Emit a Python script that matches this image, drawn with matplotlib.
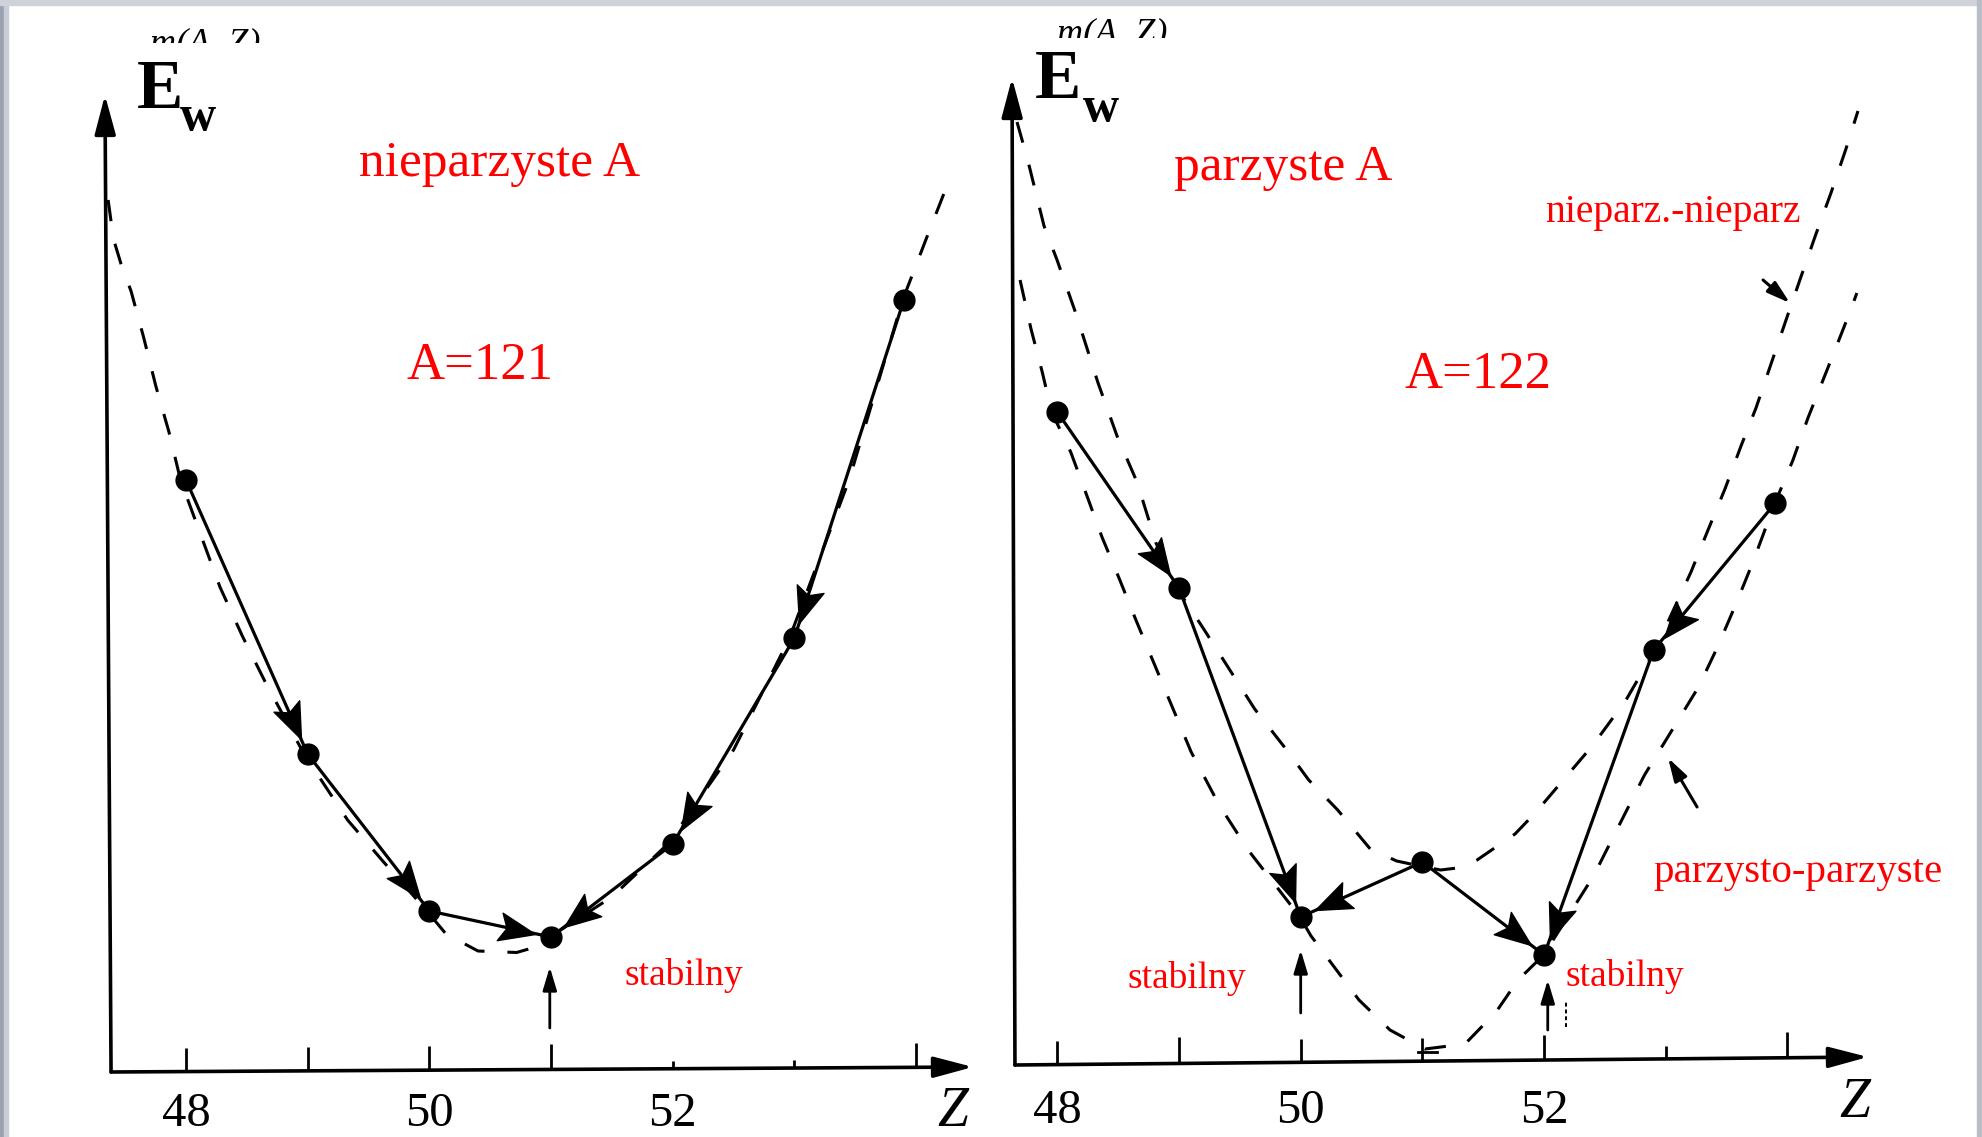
import numpy as np
import matplotlib.pyplot as plt
from matplotlib.path import Path
from matplotlib.markers import MarkerStyle
from matplotlib.patches import Rectangle
from matplotlib.transforms import Affine2D, Bbox, TransformedBbox

plt.rcParams['font.family'] = ['Liberation Serif', 'DejaVu Serif']

# ---- left panel: odd A (A=121) ----
odd_Z = [48, 49, 50, 51, 52, 53, 53.9]
odd_E = [59.0, 31.6, 15.9, 13.3, 22.6, 43.2, 77.0]
odd_decays = [(0, 1), (1, 2), (2, 3), (6, 5), (5, 4), (4, 3)]
odd_curve_Z = [47.36, 47.404, 47.466, 47.548, 47.651, 47.753, 47.86, 47.955, 48.279,
               48.463, 48.647, 48.97, 49.328, 49.617, 49.98, 50.137, 50.40, 50.717,
               50.874, 50.99, 51.5, 51.96, 52.5, 52.96, 53.45, 53.89, 54.08, 54.263]
odd_curve_E = [87.0, 83.1, 80.6, 77.9, 73.3, 68.35, 63.8, 59.0, 48.3,
               43.4, 38.9, 31.6, 25.0, 20.9, 15.9, 13.6, 11.9, 11.75,
               12.3, 13.3, 17.3, 22.6, 32.0, 43.2, 59.0, 77.0, 83.0, 88.7]

# ---- right panel: even A (A=122) ----
even_Z = [48, 49, 50, 51, 52, 52.9, 53.9]
even_E = [64.8, 47.2, 14.3, 19.8, 10.5, 41.0, 55.7]
even_decays = [(0, 1), (1, 2), (3, 2), (3, 4), (5, 4), (6, 5)]

# odd-odd parabola (upper dashed)
oo_curve_Z = [47.669, 47.759, 47.891, 47.998, 48.154, 48.335, 48.491, 48.655, 48.811,
              48.981, 49.203, 49.622, 49.885, 50.066, 50.304, 50.575, 50.789, 50.98,
              51.15, 51.284, 51.449, 51.761, 51.934, 52.402, 52.673, 52.911, 53.207,
              53.347, 53.486, 53.618, 53.741, 53.988, 54.11, 54.234, 54.357, 54.48, 54.579]
oo_curve_E = [93.8, 89.9, 83.4, 80.0, 74.6, 67.7, 62.4, 57.8, 51.7,
              47.2, 43.1, 35.1, 31.0, 28.0, 25.0, 21.05, 19.9, 19.4,
              19.0, 19.2, 20.0, 22.6, 24.8, 31.5, 36.0, 41.0, 48.8,
              53.0, 57.1, 61.4, 65.2, 74.0, 78.3, 82.6, 86.7, 91.1, 94.9]

# even-even parabola (lower dashed)
ee_curve_Z = [47.694, 47.784, 47.874, 47.954, 48.11, 48.244, 48.367, 48.507, 48.646,
              48.886, 49.1, 49.33, 49.568, 49.994, 50.085, 50.257, 50.479, 50.734,
              51.021, 51.35, 51.605, 51.786, 51.996, 52.406, 52.825, 53.269, 53.425,
              53.573, 53.713, 53.897, 54.045, 54.168, 54.39, 54.513, 54.57]
ee_curve_E = [78.0, 73.1, 68.9, 64.8, 60.8, 56.4, 52.3, 48.2, 44.0,
              37.0, 30.8, 25.5, 21.0, 14.3, 12.4, 9.6, 6.0, 3.0,
              1.1, 1.6, 4.8, 8.0, 10.5, 18.4, 28.5, 37.3, 41.3,
              45.5, 49.7, 55.7, 60.0, 64.2, 71.0, 74.8, 76.7]

tick_Z = [48, 49, 50, 51, 52, 53, 54]
tick_h_left = [2.4, 2.4, 2.4, 2.5, 0.8, 0.8, 2.4]
tick_h_right = [2.4, 2.6, 2.3, 2.3, 2.5, 1.3, 2.6]
label_Z = [48, 50, 52]

RED = '#ff0000'
W, H = 1982, 1137

fig = plt.figure(figsize=(W / 100, H / 100), dpi=100)
fig.patch.set_facecolor('white')

# slide-like grey border
fig.patches.append(Rectangle((0, 0), 4 / W, 1, transform=fig.transFigure, color='#9aa1b1', zorder=0))
fig.patches.append(Rectangle((4 / W, 0), 4 / W, 1, transform=fig.transFigure, color='#c9ccd5', zorder=0))
fig.patches.append(Rectangle((0, 1 - 5 / H), 1, 5 / H, transform=fig.transFigure, color='#cfd2d9', zorder=0))
fig.patches.append(Rectangle((1 - 5 / W, 0), 5 / W, 1, transform=fig.transFigure, color='#b9bdc8', zorder=0))

axL = fig.add_axes([8 / W, 0, 982 / W, 1 - 5 / H])
axL.set_xlim(46.4713 + 8 / 121.67, 54.6080)
axL.set_ylim(-6.7, 107.0 - 0.5)
axR = fig.add_axes([990 / W, 0, 987 / W, 1 - 5 / H])
axR.set_xlim(47.4470, 55.5982 - 5 / 121.7)
axR.set_ylim(-7.7, 106.0 - 0.5)
for ax in (axL, axR):
    ax.set_axis_off()
    ax.patch.set_alpha(0)

# barbed arrowhead, tip at the origin pointing along +x
head_path = Path([(0, 0), (-36, 14), (-29, 0), (-36, -14), (0, 0)],
                 [Path.MOVETO, Path.LINETO, Path.LINETO, Path.LINETO, Path.CLOSEPOLY])


def axis_arrow(ax, p0, p1):
    ax.annotate('', xy=p1, xytext=p0,
                arrowprops=dict(arrowstyle='-|>,head_length=1.2,head_width=0.32',
                                mutation_scale=20, lw=2.6, color='k',
                                shrinkA=0, shrinkB=0))


def small_arrow(ax, p0, p1, lw=2.0):
    ax.annotate('', xy=p1, xytext=p0,
                arrowprops=dict(arrowstyle='-|>,head_length=1.4,head_width=0.42',
                                mutation_scale=10, lw=lw, color='k',
                                shrinkA=0, shrinkB=0))


def draw_decays(ax, zs, es, decays):
    for i, j in decays:
        ax.plot([zs[i], zs[j]], [es[i], es[j]], color='k', lw=2.3, zorder=3,
                solid_capstyle='round')
        p0 = ax.transData.transform((zs[i], es[i]))
        p1 = ax.transData.transform((zs[j], es[j]))
        d = p1 - p0
        tip = p1 - d / np.hypot(*d) * 16
        tz, te = ax.transData.inverted().transform(tip)
        ang = np.degrees(np.arctan2(d[1], d[0]))
        mk = MarkerStyle(head_path, fillstyle='full',
                         transform=Affine2D().rotate_deg(ang))
        ax.plot([tz], [te], linestyle='none', marker=mk, ms=52, mfc='k', mec='k',
                mew=1.0, zorder=4)
    ax.plot(zs, es, 'o', color='k', ms=15, zorder=5)


def draw_ticks(ax, z0, e0, z1, e1, heights):
    base = np.interp(tick_Z, [z0, z1], [e0, e1])
    ax.vlines(tick_Z, base, base + np.array(heights), color='k', lw=2.0)


def clipped_mass(ax, z, e, cut_px):
    # only the top of this formula survives in the original scan
    t = ax.text(z, e, 'm(A, Z)', fontsize=26, style='italic', color='k', ha='center',
                va='baseline', clip_on=True, zorder=1)
    t.set_clip_box(TransformedBbox(Bbox([[0, 1 - cut_px / H], [1, 1]]), fig.transFigure))


dash = (0, (7, 7.5))

# ---------------- left panel ----------------
ax = axL
axis_arrow(ax, (47.384, -0.2), (47.334, 97.5))
axis_arrow(ax, (47.384, -0.2), (54.468, 0.3))
draw_ticks(ax, 47.384, -0.2, 54.468, 0.3, tick_h_left)
ax.plot(odd_curve_Z, odd_curve_E, color='k', lw=2.2, linestyle=dash, zorder=2)
draw_decays(ax, odd_Z, odd_E, odd_decays)
small_arrow(ax, (50.99, 4.2), (50.99, 10.3))

for z in label_Z:
    ax.text(z, -5.6, str(z), fontsize=35, ha='center', va='baseline', color='k')
ax.text(54.172, -5.6, 'Z', fontsize=40, style='italic', ha='left', va='baseline', color='k')
clipped_mass(ax, 48.16, 101.8, 43)
ax.text(47.597, 96.2, 'E', fontsize=50, fontweight='bold', ha='left', va='baseline', color='k', zorder=6)
ax.text(47.951, 94.0, 'w', fontsize=36, fontweight='bold', ha='left', va='baseline', color='k', zorder=6)
ax.text(50.581, 89.4, 'nieparzyste A', fontsize=37, ha='center', va='baseline', color=RED)
ax.text(50.416, 69.1, 'A=121', fontsize=38, ha='center', va='baseline', color=RED)
ax.text(51.608, 8.5, 'stabilny', fontsize=27, ha='left', va='baseline', color=RED)

# ---------------- right panel ----------------
ax = axR
axis_arrow(ax, (47.652, -0.5), (47.628, 98.2))
axis_arrow(ax, (47.652, -0.5), (54.661, 0.3))
draw_ticks(ax, 47.652, -0.5, 54.661, 0.3, tick_h_right)
ax.plot([50.96, 51.12], [0.8, 0.8], color='k', lw=2.0)
ax.plot(oo_curve_Z, oo_curve_E, color='k', lw=2.2, linestyle=dash, zorder=2)
ax.plot(ee_curve_Z, ee_curve_E, color='k', lw=2.2, linestyle=dash, zorder=2)
draw_decays(ax, even_Z, even_E, even_decays)
small_arrow(ax, (50.0, 4.7), (50.0, 11.0))
small_arrow(ax, (52.03, 3.0), (52.03, 8.0))
ax.plot([52.18, 52.18], [3.3, 5.8], color='k', lw=1.4, linestyle=(0, (2, 1.5)))
small_arrow(ax, (53.799, 78.0), (54.02, 75.7), lw=2.2)
small_arrow(ax, (53.257, 25.3), (53.019, 30.2), lw=2.2)

for z in label_Z:
    ax.text(z, -6.3, str(z), fontsize=35, ha='center', va='baseline', color='k')
ax.text(54.422, -5.7, 'Z', fontsize=40, style='italic', ha='left', va='baseline', color='k')
clipped_mass(ax, 48.45, 101.8, 38)
ax.text(47.817, 96.2, 'E', fontsize=50, fontweight='bold', ha='left', va='baseline', color='k', zorder=6)
ax.text(48.211, 93.9, 'w', fontsize=36, fontweight='bold', ha='left', va='baseline', color='k', zorder=6)
ax.text(49.855, 88.0, 'parzyste A', fontsize=37, ha='center', va='baseline', color=RED)
ax.text(52.007, 83.8, 'nieparz.-nieparz', fontsize=28.5, ha='left', va='baseline', color=RED)
ax.text(51.457, 67.2, 'A=122', fontsize=38, ha='center', va='baseline', color=RED)
ax.text(52.895, 17.8, 'parzysto-parzyste', fontsize=29.5, ha='left', va='baseline', color=RED)
ax.text(48.574, 7.2, 'stabilny', fontsize=27, ha='left', va='baseline', color=RED)
ax.text(52.173, 7.4, 'stabilny', fontsize=27, ha='left', va='baseline', color=RED)

fig.savefig('out.png', dpi=100)
